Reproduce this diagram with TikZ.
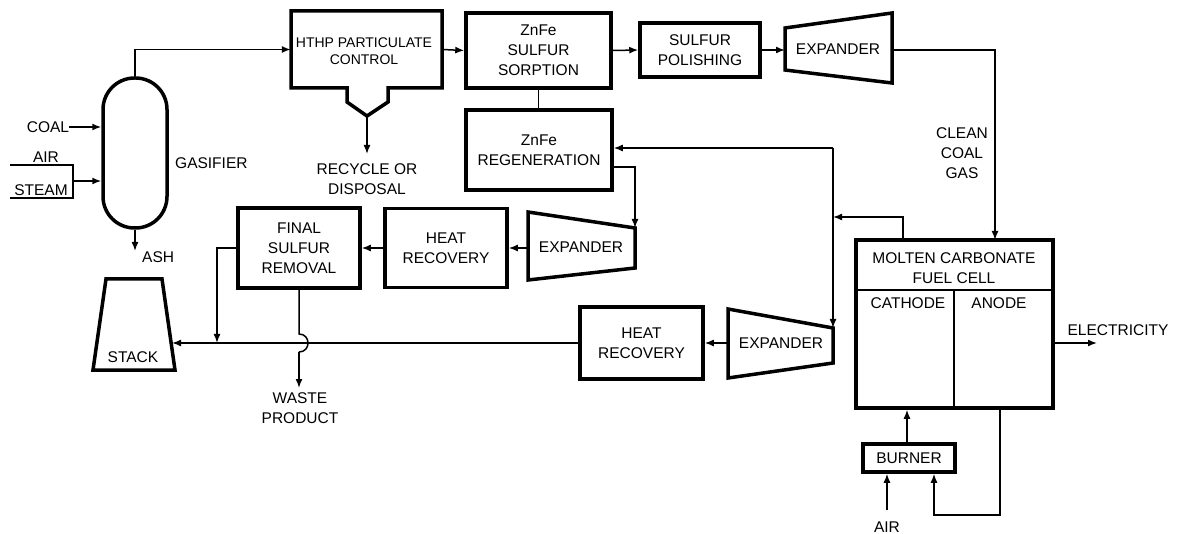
\documentclass[tikz,border=0pt]{standalone}
\usepackage{fontspec}
\setmainfont{Liberation Sans}
\usetikzlibrary{arrows.meta}
\newcommand\dlbl{\fontsize{15.5}{20}\selectfont}
\newcommand\dsml{\fontsize{14}{17}\selectfont}
\tikzset{
  blk/.style={draw, line width=3.5pt, inner sep=0pt, align=center, font=\dlbl},
  thick box/.style={line width=3.5pt, line join=miter},
  flow/.style={line width=1.5pt, -{Latex[length=9pt,width=7pt]}},
  ln/.style={line width=1.5pt},
  txt/.style={align=center, inner sep=0pt, font=\dlbl}
}
\begin{document}
\begin{tikzpicture}[x=1pt,y=-1pt]
\useasboundingbox (0,0) rectangle (1180,534);

% ---------- gasifier ----------
\node[draw, line width=3.5pt, rounded corners=31.5pt, minimum width=64pt, minimum height=150pt, inner sep=0pt] (gas) at (135,153) {};
\node[txt, anchor=west] (gaslbl) at (175,163) {GASIFIER};
\node[txt] (coal) at (48,127) {COAL};
\node[txt] (air1) at (46,157) {AIR};
\node[txt] (steam) at (41,190) {STEAM};
\coordinate (b1) at (10,165);
\coordinate (b2) at (73,165);
\coordinate (b3) at (73,198);
\coordinate (b4) at (10,198);
\coordinate (bmid) at (73,181);
\draw[ln] (b1) -- (b2) -- (b3) -- (b4);
\draw[flow] (bmid) -- (bmid -| gas.west);
\draw[flow] (coal.east) -- (coal -| gas.west);
\coordinate (ashend) at (135,251);
\draw[flow] (gas.south) -- (ashend);
\node[txt, anchor=west] (ash) at (142,257) {ASH};

% ---------- HTHP particulate control ----------
\draw[thick box] (291,11) -- (442,11) -- (442,88) -- (388,88) -- (388,102) -- (367,116) -- (347,102) -- (347,88) -- (291,88) -- cycle;
\node[minimum width=151pt, minimum height=77pt, inner sep=0pt] (hthp) at (366.5,49.5) {};
\node[align=center, inner sep=0pt, font=\dsml] (hthplbl) at (364,51) {HTHP PARTICULATE\\CONTROL};
\coordinate (hop) at (367,116);
\coordinate (hopend) at (367,154);
\draw[flow] (hop) -- (hopend);
\node[txt] (recycle) at (367,179) {RECYCLE OR\\DISPOSAL};
\draw[flow] (gas.north) |- (hthp.west);

% ---------- ZnFe sulfur sorption / polishing / expander ----------
\node[blk, minimum width=145pt, minimum height=75pt] (sorb) at (538.5,50.5) {ZnFe\\SULFUR\\SORPTION};
\node[blk, minimum width=120pt, minimum height=54pt] (polish) at (700,50) {SULFUR\\POLISHING};
\draw[thick box] (785,28) -- (892,13) -- (892,83) -- (785,70) -- cycle;
\node[txt] (exp1) at (838,49) {EXPANDER};
\coordinate (exp1w) at (785,50);
\coordinate (exp1e) at (892,50);
\draw[flow] (hthp.east) -- (sorb.west);
\draw[flow] (sorb.east) -- (polish.west);
\draw[flow] (polish.east) -- (exp1w);

% ---------- fuel cell ----------
\node[draw, line width=3.5pt, minimum width=197pt, minimum height=168pt, inner sep=0pt] (fc) at (954.5,324) {};
\coordinate (fchl) at (856,290);
\coordinate (fchr) at (1053,290);
\coordinate (fcdiv) at (954,290);
\draw[ln] (fchl) -- (fchr);
\draw[ln] (fcdiv) -- (fcdiv |- fc.south);
\node[txt] (fclbl) at (954,268) {MOLTEN CARBONATE\\FUEL CELL};
\node[txt] (cath) at (908,303) {CATHODE};
\node[txt] (anode) at (999,303) {ANODE};
\coordinate (fcin) at (995,240);
\draw[flow] (exp1e) -| (fcin);
\node[txt] (clean) at (962,153) {CLEAN\\COAL\\GAS};
\coordinate (elecend) at (1097,343);
\draw[flow] (fc.east |- elecend) -- (elecend);
\node[txt] (elec) at (1118,330) {ELECTRICITY};

% ---------- burner ----------
\node[blk, minimum width=92pt, minimum height=28pt] (burner) at (909,458) {BURNER};
\coordinate (bcx) at (907,458);
\draw[flow] (bcx |- burner.north) -- (bcx |- fc.south);
\coordinate (airb) at (887,510);
\draw[flow] (airb) -- (airb |- burner.south);
\node[txt] (air2) at (887,527) {AIR};
\coordinate (anx) at (1000,515);
\coordinate (bnx) at (934,515);
\draw[flow] (anx |- fc.south) -- (anx) -- (bnx) -- (bnx |- burner.south);

% ---------- regeneration branch ----------
\node[blk, minimum width=146pt, minimum height=80pt] (regen) at (539,150) {ZnFe\\REGENERATION};
\draw[ln] (sorb.south) -- (sorb.south |- regen.north);
\draw[thick box] (528,212) -- (635,228) -- (635,268) -- (528,280) -- cycle;
\node[txt] (exp2) at (581,247) {EXPANDER};
\coordinate (exp2ne) at (635,228);
\coordinate (exp2w) at (528,248);
\coordinate (regout) at (612,167);
\draw[flow] (regout) -| (exp2ne);
\node[blk, minimum width=122pt, minimum height=79pt] (hr1) at (446,248) {HEAT\\RECOVERY};
\node[blk, minimum width=122pt, minimum height=80pt] (fsr) at (299,248) {FINAL\\SULFUR\\REMOVAL};
\draw[flow] (exp2w) -- (hr1.east);
\draw[flow] (hr1.west) -- (fsr.east);

% ---------- cathode exhaust ----------
\coordinate (jct) at (833,217);
\coordinate (jtop) at (833,148);
\coordinate (cathout) at (903,240);
\draw[flow] (cathout) |- (jct);
\draw[thick box] (728,309) -- (833,328) -- (833,363) -- (728,378) -- cycle;
\node[txt] (exp3) at (781,343) {EXPANDER};
\coordinate (exp3ne) at (833,328);
\coordinate (exp3w) at (728,343);
\draw[flow] (jtop) -- (exp3ne);
\draw[flow] (jtop) -- (jtop -| regen.east);
\node[blk, minimum width=123pt, minimum height=72pt] (hr2) at (641.5,343) {HEAT\\RECOVERY};
\draw[flow] (exp3w) -- (hr2.east);

% ---------- stack ----------
\draw[thick box] (106,279) -- (162,279) -- (175,370) -- (93,370) -- cycle;
\node[txt] (stack) at (133,357) {STACK};
\coordinate (stacke) at (172,343);
\draw[flow] (hr2.west) -- (stacke);
\coordinate (fsrl) at (217,248);
\coordinate (fsrld) at (217,343);
\draw[flow] (fsr.west |- fsrl) -- (fsrl) -- (fsrld);

% ---------- waste ----------
\coordinate (wj1) at (299,334);
\coordinate (wj2) at (299,352);
\coordinate (wend) at (299,388);
\draw[ln] (fsr.south) -- (wj1) .. controls (311,334) and (311,352) .. (wj2);
\draw[flow] (wj2) -- (wend);
\node[txt] (waste) at (300,408) {WASTE\\PRODUCT};
\end{tikzpicture}
\end{document}
